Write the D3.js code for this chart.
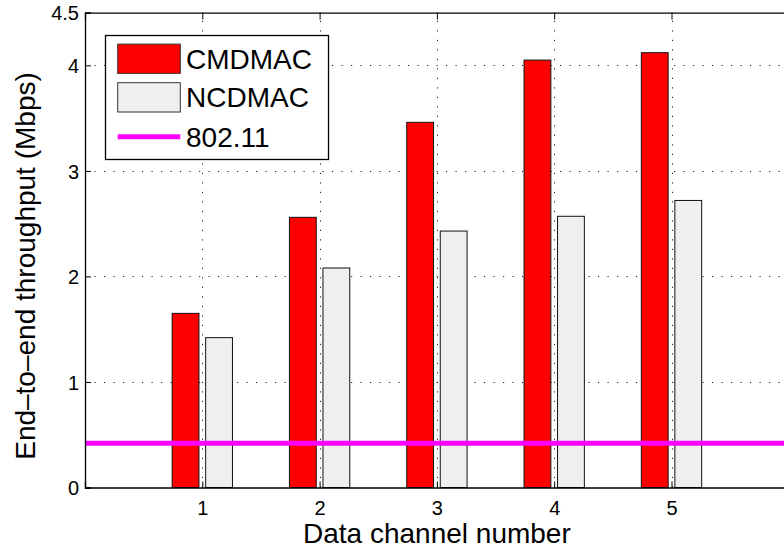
<!DOCTYPE html>
<html>
<head>
<meta charset="utf-8">
<script src="https://cdn.jsdelivr.net/npm/d3@7"></script>
<style>
  html, body { margin: 0; padding: 0; background: #fff; }
  svg { display: block; font-family: Arial, "Liberation Sans", Helvetica, sans-serif; }
</style>
</head>
<body>
<svg id="chart" width="784" height="551"></svg>
<script>
// Throughput per number of data channels
const channels = [1, 2, 3, 4, 5];
const cmdmac = [1.65, 2.56, 3.46, 4.05, 4.12];
const ncdmac = [1.42, 2.08, 2.43, 2.57, 2.72];
const baseline80211 = 0.42;
const yTicks = [0, 1, 2, 3, 4, 4.5];
const seriesNames = ["CMDMAC", "NCDMAC", "802.11"];
const seriesColors = ["#ff0000", "#efefef", "#ff00ff"];

const svg = d3.select("#chart");
const margin = { left: 85, top: 12.6, bottom: 63.5 };
const plotW = 6 * 117.3;
const plotH = 551 - margin.top - margin.bottom;

const x = d3.scaleLinear().domain([0, 6]).range([margin.left, margin.left + plotW]);
const y = d3.scaleLinear().domain([0, 4.5]).range([margin.top + plotH, margin.top]);

// grouped bar geometry (in channel units)
const groupOffset = 1 / 7;
const barW = 0.8 * (2 / 3.5) / 2;

const g = svg.append("g");

// white plot background
g.append("rect")
  .attr("x", x(0)).attr("y", y(4.5))
  .attr("width", x(6) - x(0)).attr("height", y(0) - y(4.5))
  .attr("fill", "#fff");

// dotted grid
const gridStyle = sel => sel.attr("stroke", "#222").attr("stroke-width", 1)
  .attr("stroke-dasharray", "1.2,8.3").attr("fill", "none");
g.selectAll(".hgrid").data(yTicks.filter(v => v > 0 && v < 4.5)).enter()
  .append("line").attr("class", "hgrid")
  .attr("x1", x(0)).attr("x2", x(6))
  .attr("y1", d => Math.round(y(d)) + 0.5).attr("y2", d => Math.round(y(d)) + 0.5)
  .call(gridStyle);
g.selectAll(".vgrid").data(channels).enter()
  .append("line").attr("class", "vgrid")
  .attr("y1", y(0)).attr("y2", y(4.5))
  .attr("x1", d => Math.round(x(d)) + 0.5).attr("x2", d => Math.round(x(d)) + 0.5)
  .call(gridStyle);

// bars
g.selectAll(".bar-c").data(channels).enter()
  .append("rect").attr("class", "bar-c")
  .attr("x", d => x(d - groupOffset - barW / 2))
  .attr("width", d => x(barW) - x(0))
  .attr("y", (d, i) => y(cmdmac[i]))
  .attr("height", (d, i) => y(0) - y(cmdmac[i]))
  .attr("fill", seriesColors[0]).attr("stroke", "#111").attr("stroke-width", 1);
g.selectAll(".bar-n").data(channels).enter()
  .append("rect").attr("class", "bar-n")
  .attr("x", d => x(d + groupOffset - barW / 2))
  .attr("width", d => x(barW) - x(0))
  .attr("y", (d, i) => y(ncdmac[i]))
  .attr("height", (d, i) => y(0) - y(ncdmac[i]))
  .attr("fill", seriesColors[1]).attr("stroke", "#111").attr("stroke-width", 1);

// 802.11 reference line
g.append("line")
  .attr("x1", x(0)).attr("x2", x(6))
  .attr("y1", y(baseline80211)).attr("y2", y(baseline80211))
  .attr("stroke", seriesColors[2]).attr("stroke-width", 5);

// axes (ticks point inward)
const xAxis = d3.axisBottom(x).tickValues(channels).tickSize(-6).tickPadding(12).tickFormat(d3.format("d"));
const yAxis = d3.axisLeft(y).tickValues(yTicks).tickSize(-6).tickPadding(6).tickFormat(d => d === 4.5 ? "4.5" : d3.format("d")(d));
const xTop = d3.axisTop(x).tickValues(channels).tickSize(-7).tickFormat("");

const styleAxis = sel => {
  sel.select(".domain").attr("stroke", "#000").attr("stroke-width", 1.3);
  sel.selectAll(".tick line").attr("stroke", "#000").attr("stroke-width", 1);
  sel.selectAll(".tick text").attr("fill", "#000").style("font-size", "20px")
    .style("font-family", "Arial, 'Liberation Sans', sans-serif");
};

svg.append("g").attr("transform", `translate(0,${y(0)})`).call(xAxis).call(styleAxis)
  .selectAll(".tick text").attr("dy", "0.75em");
svg.append("g").attr("transform", `translate(${x(0)},0)`).call(yAxis).call(styleAxis)
  .selectAll(".tick text").attr("dy", "0.36em");
svg.append("g").attr("transform", `translate(0,${y(4.5)})`).call(xTop).call(styleAxis);

// axis titles
svg.append("text")
  .attr("x", (x(0) + x(6)) / 2).attr("y", 543)
  .attr("text-anchor", "middle").style("font-size", "28px").attr("fill", "#000")
  .text("Data channel number");
svg.append("text")
  .attr("transform", `translate(35,266) rotate(-90)`)
  .attr("text-anchor", "middle").style("font-size", "28px").attr("fill", "#000")
  .text("End\u2013to\u2013end throughput (Mbps)");

// legend
const lg = svg.append("g");
lg.append("rect").attr("x", 105.5).attr("y", 35.5).attr("width", 223).attr("height", 124)
  .attr("fill", "#fff").attr("stroke", "#000").attr("stroke-width", 1.3);
const rowY = [58.7, 97.3, 136.7];
seriesNames.forEach((name, i) => {
  if (i < 2) {
    lg.append("rect").attr("x", 117.7).attr("y", rowY[i] - 14.6).attr("width", 62.6).attr("height", 29.3)
      .attr("fill", seriesColors[i]).attr("stroke", "#333").attr("stroke-width", 1);
  } else {
    lg.append("line").attr("x1", 117.7).attr("x2", 180.3).attr("y1", rowY[i]).attr("y2", rowY[i])
      .attr("stroke", seriesColors[i]).attr("stroke-width", 5);
  }
  lg.append("text").attr("x", 186).attr("y", rowY[i]).attr("dy", "0.36em")
    .style("font-size", "28px").attr("fill", "#000").text(name);
});
</script>
</body>
</html>
